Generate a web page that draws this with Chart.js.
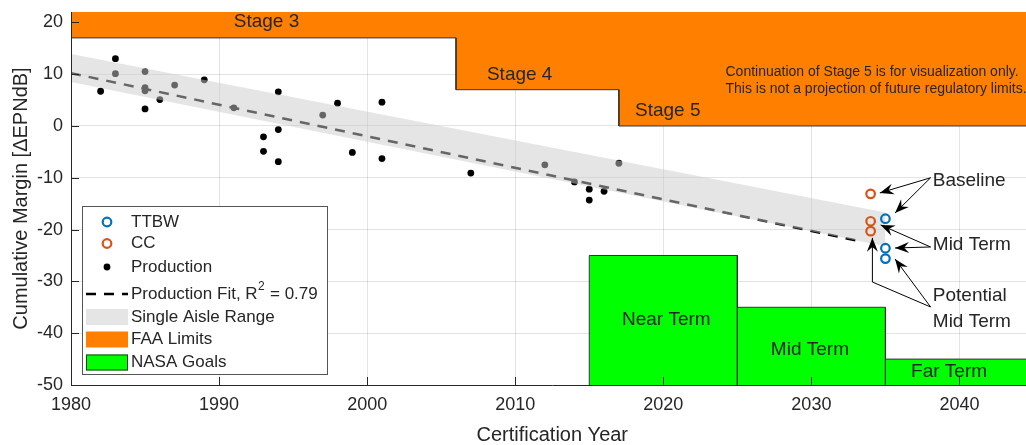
<!DOCTYPE html>
<html>
<head>
<meta charset="utf-8">
<script src="https://cdn.jsdelivr.net/npm/chart.js@4/dist/chart.umd.min.js"></script>
<style>
  html, body { margin: 0; padding: 0; background: #fff; }
  #wrap { width: 1026px; height: 445px; overflow: hidden; position: relative; }
  canvas { display: block; }
</style>
</head>
<body>
<div id="wrap"><canvas id="chart" width="1040" height="445"></canvas></div>
<script>
// Axis ticks
const tickYears = [1980, 1990, 2000, 2010, 2020, 2030, 2040];
const tickMargins = [-50, -40, -30, -20, -10, 0, 10, 20];

// Production aircraft
const prodYear = [1982, 1983, 1983, 1985, 1985, 1985, 1985, 1986, 1987, 1989, 1991, 1993, 1993, 1994,
  1994, 1994, 1997, 1998, 1999, 2001, 2001, 2007, 2012, 2014, 2015, 2015, 2016, 2017];
const prodMargin = [6.7, 13.0, 10.1, 10.5, 7.4, 6.8, 3.3, 5.1, 7.9, 8.9, 3.5, -2.1, -4.9, 6.6,
  -0.7, -6.9, 2.1, 4.4, -5.1, 4.6, -6.3, -9.1, -7.5, -10.8, -12.2, -14.3, -12.6, -7.2];

// Fit line and single aisle band
const fitYears = [1980, 2033.5];
const fitMargin = [10.2, -22.4];
const bandYears = [1980, 2035];
const bandUpper = [13.9, -16.7];
const bandLower = [8.5, -23.2];

// Concepts
const ttbwYear = [2035, 2035, 2035];
const ttbwMargin = [-17.9, -23.6, -25.6];
const ccYear = [2034, 2034, 2034];
const ccMargin = [-13.1, -18.4, -20.3];

// FAA limits (stepped)
const faaYears = [1980, 2006, 2017, 2045];
const faaLimits = [17, 7, 0, 0];
const stageNames = ['Stage 3', 'Stage 4', 'Stage 5'];
const stageLabelX = [1993.2, 2010.3, 2020.3];
const stageLabelY = [20.1, 9.8, 2.9];

// NASA goals
const goalStart = [2015, 2025, 2035];
const goalEnd = [2025, 2035, 2045];
const goalLevel = [-25, -35, -45];
const goalNames = ['Near Term', 'Mid Term', 'Far Term'];
const goalLabelX = [2020.2, 2029.9, 2039.3];
const goalLabelY = [-37.5, -43.2, -47.4];

const FONT = "'Liberation Sans', Arial, Helvetica, sans-serif";
const TXT = '#262626';
const BLUE = '#0072BD';
const RED = '#D95319';
const ORANGE = '#FF8000';
const GREEN = '#00FF00';
const BAND = 'rgba(204,204,204,0.5)';

const xy = (xs, ys) => xs.map((x, i) => ({ x, y: ys[i] }));

// expand the limit steps into corner points
const faaSteps = [];
faaYears.forEach((yr, i) => {
  if (i > 0) faaSteps.push({ x: yr, y: faaLimits[i - 1] });
  faaSteps.push({ x: yr, y: faaLimits[i] });
});

const goalSets = goalStart.map((s, i) => ({
  label: goalNames[i],
  data: xy([s, s, goalEnd[i], goalEnd[i]], [-50, goalLevel[i], goalLevel[i], -50]),
  showLine: true, pointRadius: 0, borderColor: '#333', borderWidth: 1,
  backgroundColor: GREEN, fill: 'start', order: 6
}));

const datasets = [
  { label: 'FAA Limits', data: faaSteps, showLine: true,
    pointRadius: 0, borderColor: '#333', borderWidth: 1, backgroundColor: ORANGE, fill: 'end', order: 6 },
  ...goalSets,
  { label: 'Production', data: xy(prodYear, prodMargin), pointRadius: 3.4, pointBackgroundColor: '#000',
    pointBorderWidth: 0, order: 3 },
  { label: 'Production Fit', data: xy(fitYears, fitMargin), showLine: true, pointRadius: 0,
    borderColor: '#000', borderWidth: 2.5, borderDash: [10, 8], order: 3 },
  { label: 'bandUpper', data: xy(bandYears, bandUpper), showLine: true, pointRadius: 0,
    borderWidth: 0, borderColor: 'transparent', order: 1 },
  { label: 'Single Aisle Range', data: xy(bandYears, bandLower), showLine: true, pointRadius: 0,
    borderWidth: 0, borderColor: 'transparent', backgroundColor: BAND, fill: '-1', order: 1 },
  { label: 'TTBW', data: xy(ttbwYear, ttbwMargin), pointRadius: 4.3, pointBorderWidth: 2.2,
    pointBorderColor: BLUE, pointBackgroundColor: 'rgba(0,0,0,0)', order: 0 },
  { label: 'CC', data: xy(ccYear, ccMargin), pointRadius: 4.3, pointBorderWidth: 2.2,
    pointBorderColor: RED, pointBackgroundColor: 'rgba(0,0,0,0)', order: 0 }
];

// Annotation arrows, in data units
const noteLabels = ['Baseline', 'Mid Term', 'Potential', 'Mid Term'];
const noteY = [-10.6, -23.0, -32.8, -37.8];
const noteX = 2038.2;
const arrows = [
  [[2038.05, -10.0], [2034.62, -12.93]],
  [[2038.05, -10.0], [2035.65, -16.8]],
  [[2038.05, -23.36], [2034.68, -19.11]],
  [[2038.05, -23.36], [2035.65, -23.55]],
  [[2038.05, -34.94], [2035.65, -25.68]],
  [[2038.05, -34.94], [2034.12, -30.12], [2034.12, -21.6]]
];

function arrowHead(ctx, x0, y0, x1, y1) {
  const a = Math.atan2(y1 - y0, x1 - x0);
  const L = 14, W = 5.5;
  ctx.save();
  ctx.translate(x1, y1);
  ctx.rotate(a);
  ctx.beginPath();
  ctx.moveTo(0, 0);
  ctx.lineTo(-L, W);
  ctx.lineTo(-L * 0.65, 0);
  ctx.lineTo(-L, -W);
  ctx.closePath();
  ctx.fill();
  ctx.restore();
}

const overlay = {
  id: 'overlay',
  afterDatasetsDraw(chart) {
    const { ctx, chartArea: ca, scales: { x, y } } = chart;
    ctx.save();
    ctx.fillStyle = TXT;
    ctx.textBaseline = 'middle';
    ctx.textAlign = 'center';
    ctx.font = '19px ' + FONT;
    stageNames.forEach((s, i) => ctx.fillText(s, x.getPixelForValue(stageLabelX[i]), y.getPixelForValue(stageLabelY[i])));
    goalNames.forEach((s, i) => ctx.fillText(s, x.getPixelForValue(goalLabelX[i]), y.getPixelForValue(goalLabelY[i])));

    ctx.textAlign = 'left';
    ctx.font = '14px ' + FONT;
    ctx.fillText('Continuation of Stage 5 is for visualization only.', x.getPixelForValue(2024.2), y.getPixelForValue(10.4));
    ctx.fillText('This is not a projection of future regulatory limits.', x.getPixelForValue(2024.2), y.getPixelForValue(7.1));

    ctx.font = '19px ' + FONT;
    noteLabels.forEach((s, i) => ctx.fillText(s, x.getPixelForValue(noteX), y.getPixelForValue(noteY[i])));

    // arrows
    ctx.strokeStyle = '#000';
    ctx.fillStyle = '#000';
    ctx.lineWidth = 1;
    arrows.forEach(pts => {
      const p = pts.map(([a, b]) => [x.getPixelForValue(a), y.getPixelForValue(b)]);
      ctx.beginPath();
      p.forEach(([px, py], i) => i ? ctx.lineTo(px, py) : ctx.moveTo(px, py));
      ctx.stroke();
      const n = p.length;
      arrowHead(ctx, p[n - 2][0], p[n - 2][1], p[n - 1][0], p[n - 1][1]);
    });

    // axes lines and inward ticks
    ctx.strokeStyle = TXT;
    ctx.lineWidth = 1;
    ctx.beginPath();
    ctx.moveTo(ca.left + 0.5, ca.top);
    ctx.lineTo(ca.left + 0.5, ca.bottom + 0.5);
    ctx.lineTo(ca.right, ca.bottom + 0.5);
    tickYears.forEach(v => {
      const px = Math.round(x.getPixelForValue(v)) + 0.5;
      ctx.moveTo(px, ca.bottom);
      ctx.lineTo(px, ca.bottom - 8);
    });
    tickMargins.forEach(v => {
      const py = Math.round(y.getPixelForValue(v)) + 0.5;
      ctx.moveTo(ca.left, py);
      ctx.lineTo(ca.left + 8, py);
    });
    ctx.stroke();

    // legend
    const lx = 82.5, ly = 206.5, lw = 245, lh = 168;
    ctx.fillStyle = '#fff';
    ctx.fillRect(lx, ly, lw, lh);
    ctx.strokeStyle = '#555';
    ctx.strokeRect(lx, ly, lw, lh);
    const tx = 131, mx = 107;
    const rows = [222, 243.5, 267, 294, 317, 339.5, 362.5];
    ctx.font = '17px ' + FONT;
    ctx.textAlign = 'left';
    ctx.lineWidth = 2.2;
    ctx.strokeStyle = BLUE;
    ctx.beginPath(); ctx.arc(mx, rows[0], 4.3, 0, Math.PI * 2); ctx.stroke();
    ctx.strokeStyle = RED;
    ctx.beginPath(); ctx.arc(mx, rows[1], 4.3, 0, Math.PI * 2); ctx.stroke();
    ctx.fillStyle = '#000';
    ctx.beginPath(); ctx.arc(mx, rows[2], 3.4, 0, Math.PI * 2); ctx.fill();
    ctx.strokeStyle = '#000';
    ctx.lineWidth = 2.5;
    ctx.setLineDash([10, 8]);
    ctx.beginPath(); ctx.moveTo(86, rows[3]); ctx.lineTo(128, rows[3]); ctx.stroke();
    ctx.setLineDash([]);
    ctx.fillStyle = '#E5E5E5'; ctx.fillRect(86, rows[4] - 8, 42, 16);
    ctx.fillStyle = ORANGE; ctx.fillRect(86, rows[5] - 8, 42, 16);
    ctx.fillStyle = GREEN; ctx.fillRect(86, rows[6] - 8, 42, 16);
    ctx.lineWidth = 1; ctx.strokeStyle = '#333';
    ctx.strokeRect(86.5, rows[6] - 7.5, 41, 15);

    ctx.fillStyle = TXT;
    ctx.fillText('TTBW', tx, rows[0]);
    ctx.fillText('CC', tx, rows[1]);
    ctx.fillText('Production', tx, rows[2]);
    const base = 'Production Fit, R';
    ctx.fillText(base, tx, rows[3]);
    const w1 = ctx.measureText(base).width;
    ctx.font = '12px ' + FONT;
    ctx.fillText('2', tx + w1 + 0.5, rows[3] - 7);
    const w2 = ctx.measureText('2').width;
    ctx.font = '17px ' + FONT;
    ctx.fillText(' = 0.79', tx + w1 + w2 + 1, rows[3]);
    ctx.fillText('Single Aisle Range', tx, rows[4]);
    ctx.fillText('FAA Limits', tx, rows[5]);
    ctx.fillText('NASA Goals', tx, rows[6]);
    ctx.restore();
  }
};

new Chart(document.getElementById('chart'), {
  type: 'scatter',
  data: { datasets },
  options: {
    responsive: false,
    animation: false,
    layout: { padding: { top: 12, right: 4, left: 0, bottom: 0 } },
    plugins: { legend: { display: false }, tooltip: { enabled: false } },
    elements: { line: { tension: 0 } },
    scales: {
      x: {
        type: 'linear', min: 1980, max: 2045,
        afterBuildTicks: s => { s.ticks = tickYears.map(v => ({ value: v })); },
        afterFit: s => { s.height = 60; s.paddingLeft = 0; s.paddingRight = 0; },
        grid: { color: 'rgba(38,38,38,0.13)', drawTicks: false },
        border: { display: false },
        ticks: { color: TXT, font: { family: FONT, size: 18 }, padding: 9, maxRotation: 0, callback: v => String(v) },
        title: { display: true, text: 'Certification Year', color: TXT,
          font: { family: FONT, size: 20, lineHeight: 1 }, padding: { top: 0, bottom: 0 } }
      },
      y: {
        type: 'linear', min: -50, max: 22,
        afterBuildTicks: s => { s.ticks = tickMargins.map(v => ({ value: v })); },
        afterFit: s => { s.width = 71; s.paddingTop = 0; s.paddingBottom = 0; },
        grid: { color: 'rgba(38,38,38,0.13)', drawTicks: false },
        border: { display: false },
        ticks: { color: TXT, font: { family: FONT, size: 18 }, padding: 8 },
        title: { display: true, text: 'Cumulative Margin [\u0394EPNdB]', color: TXT,
          font: { family: FONT, size: 20, lineHeight: 1 }, padding: { top: 11, bottom: 0 } }
      }
    }
  },
  plugins: [overlay]
});
</script>
</body>
</html>
